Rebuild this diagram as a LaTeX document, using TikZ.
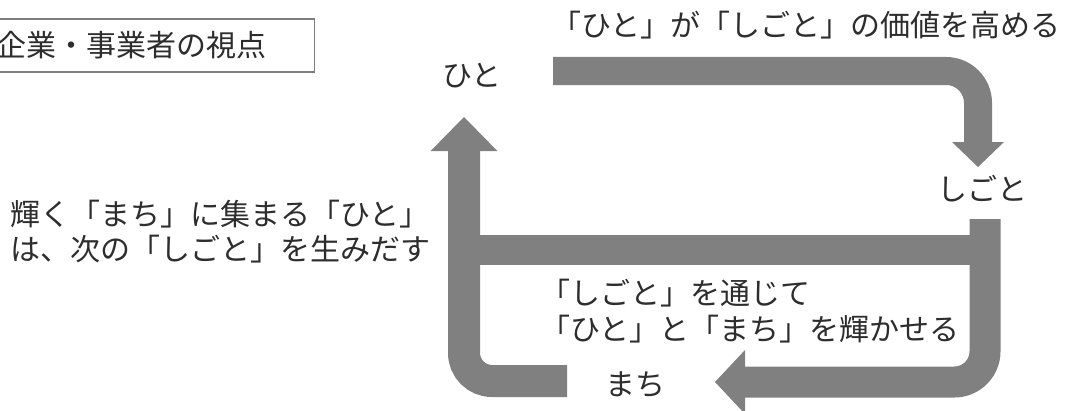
\documentclass[tikz,border=0pt]{standalone}
\usepackage{fontspec}
\setmainfont{Noto Sans CJK JP}
\usetikzlibrary{arrows.meta}
\definecolor{bandgray}{RGB}{128,128,128}
\definecolor{textgray}{RGB}{45,45,45}
\definecolor{framegray}{RGB}{125,125,125}
\tikzset{every picture/.style={line width=0.75pt}}
\tikzset{
  band/.style={draw=bandgray, line width=#1},
  word/.style={text=textgray, inner sep=0pt, align=left,
    font=\fontsize{22.5pt}{26.6pt}\selectfont},
}

\begin{document}
\begin{tikzpicture}[x=0.75pt,y=0.75pt,yscale=-1,xscale=1]
\useasboundingbox (0,0) rectangle (1066,410);

% Text Node
\node[word, draw=framegray, line width=1.1pt, anchor=west, inner xsep=4.5pt, text width=234pt, minimum height=39.75pt] (view) at (-10,45.5) {企業・事業者の視点};
% Text Node
\node[word] (hito) at (472,76) {ひと};
% Text Node
\node[word] (shigoto) at (982,189) {しごと};
% Text Node
\node[word] (machi) at (635,385) {まち};
% Text Node
\node[word] (goal) at (806,25) {「ひと」が「しごと」の価値を高める};
% Text Node
\node[word, anchor=west] (return) at (10,231.5) {輝く「まち」に集まる「ひと」\\は、次の「しごと」を生みだす};
% Text Node
\node[word, anchor=west] (through) at (540,311) {「しごと」を通じて\\「ひと」と「まち」を輝かせる};

% band ends
\coordinate (hitoOut) at (553,71);
\coordinate (shigotoIn) at (978,167);
\coordinate (shigotoOut) at (985,219);
\coordinate (machiIn) at (715,382);
\coordinate (machiOut) at (567,381);
\coordinate (hitoIn) at (464,117);
\coordinate (linkL) at (464,250);
\coordinate (linkR) at (985,250);

% Connection
\draw[band=21pt, rounded corners=24pt, -{Triangle[width=39pt,length=18.75pt,line width=0pt]}] (hitoOut) -| (shigotoIn);
% Connection
\draw[band=23.25pt, rounded corners=23pt, -{Triangle[width=48pt,length=22.5pt,line width=0pt]}] (shigotoOut) |- (machiIn);
% Connection
\draw[band=24pt, rounded corners=21pt, -{Triangle[width=50pt,length=25.5pt,line width=0pt]}] (machiOut) -| (hitoIn);
% Connection
\draw[band=22.5pt] (linkL) -- (linkR);

\end{tikzpicture}
\end{document}
